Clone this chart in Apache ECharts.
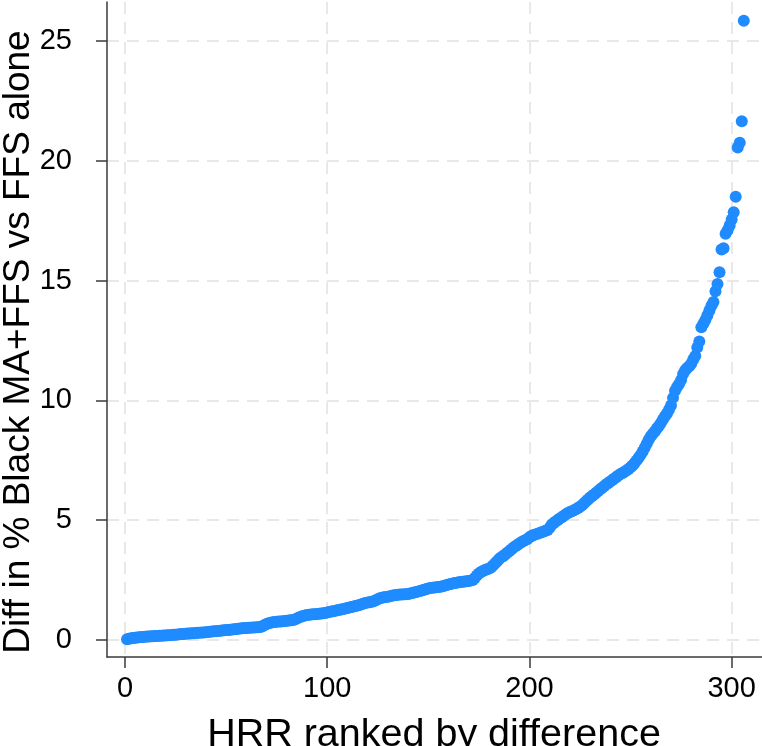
<!DOCTYPE html>
<html>
<head>
<meta charset="utf-8">
<script src="https://cdn.jsdelivr.net/npm/echarts@6/dist/echarts.min.js"></script>
<style>
html,body{margin:0;padding:0;background:#fff;}
#chart{width:762px;height:746px;}
</style>
</head>
<body>
<div id="chart"></div>
<script>
// Difference in % Black (MA+FFS vs FFS alone), HRRs ranked 1..306 by difference
var diffValues = [
0.02,0.04,0.06,0.07,0.08,0.09,0.10,0.11,0.12,0.13,
0.14,0.14,0.15,0.15,0.16,0.16,0.17,0.17,0.18,0.18,
0.19,0.19,0.20,0.21,0.21,0.22,0.23,0.24,0.24,0.25,
0.26,0.26,0.27,0.27,0.28,0.29,0.29,0.30,0.30,0.31,
0.32,0.33,0.34,0.35,0.36,0.37,0.38,0.39,0.40,0.41,
0.41,0.42,0.43,0.44,0.45,0.46,0.47,0.48,0.49,0.49,
0.50,0.50,0.51,0.51,0.52,0.52,0.53,0.56,0.62,0.66,
0.69,0.71,0.73,0.74,0.75,0.76,0.76,0.77,0.78,0.79,
0.80,0.81,0.82,0.85,0.89,0.93,0.96,0.99,1.01,1.03,
1.04,1.05,1.06,1.07,1.08,1.09,1.10,1.11,1.12,1.14,
1.16,1.18,1.19,1.21,1.23,1.25,1.26,1.28,1.30,1.33,
1.35,1.37,1.39,1.41,1.43,1.45,1.48,1.51,1.54,1.56,
1.57,1.59,1.61,1.65,1.69,1.73,1.75,1.77,1.79,1.80,
1.82,1.84,1.86,1.87,1.88,1.89,1.89,1.90,1.90,1.91,
1.93,1.95,1.97,1.99,2.02,2.04,2.07,2.09,2.12,2.14,
2.16,2.17,2.18,2.19,2.20,2.21,2.23,2.26,2.29,2.31,
2.33,2.35,2.37,2.38,2.40,2.41,2.42,2.43,2.44,2.45,
2.47,2.50,2.58,2.68,2.77,2.83,2.87,2.91,2.94,2.97,
3.02,3.10,3.19,3.28,3.37,3.44,3.49,3.56,3.63,3.70,
3.77,3.84,3.90,3.96,4.02,4.07,4.12,4.16,4.21,4.28,
4.33,4.37,4.40,4.43,4.46,4.49,4.52,4.55,4.58,4.68,
4.80,4.88,4.94,5.00,5.06,5.12,5.18,5.24,5.29,5.33,
5.37,5.41,5.45,5.50,5.55,5.62,5.70,5.78,5.86,5.94,
6.00,6.07,6.14,6.21,6.28,6.35,6.42,6.49,6.55,6.61,
6.67,6.73,6.80,6.86,6.92,6.96,7.01,7.07,7.13,7.20,
7.28,7.38,7.49,7.60,7.72,7.86,8.02,8.18,8.35,8.50,
8.60,8.70,8.82,8.93,9.05,9.20,9.33,9.45,9.60,9.78,
10.10,10.40,10.55,10.68,10.85,11.10,11.25,11.35,11.42,11.52,
11.70,11.85,12.20,12.45,13.05,13.20,13.35,13.55,13.75,13.95,
14.10,14.55,14.85,15.35,16.30,16.35,16.95,17.10,17.30,17.55,
17.85,18.50,20.55,20.75,21.65,25.85
];
var xTicks = [0, 100, 200, 300];
var yTicks = [0, 5, 10, 15, 20, 25];
var xTitle = 'HRR ranked by difference';
var yTitle = 'Diff in % Black MA+FFS vs FFS alone';

var points = diffValues.map(function (v, i) { return [i + 1, v]; });

var FONT = '"Liberation Sans", Arial, Helvetica, sans-serif';
var chart = echarts.init(document.getElementById('chart'), null, {renderer: 'canvas'});
chart.setOption({
  animation: false,
  backgroundColor: '#ffffff',
  grid: {left: 107, right: 0, top: 2, bottom: 89, containLabel: false, outerBoundsMode: 'none'},
  xAxis: {
    type: 'value', min: -8.9, max: 315,
    axisLine: {show: true, onZero: false, lineStyle: {color: '#3a3a3a', width: 1.5}},
    axisTick: {show: true, length: 11, customValues: xTicks, lineStyle: {color: '#3a3a3a', width: 1.5}},
    axisLabel: {show: true, customValues: xTicks, margin: 17, color: '#000', fontSize: 29, fontFamily: FONT},
    splitLine: {show: true, lineStyle: {color: '#e8e8e8', width: 2, type: [12, 8]}}
  },
  yAxis: {
    type: 'value', min: -0.72, max: 26.63,
    axisLine: {show: true, onZero: false, lineStyle: {color: '#3a3a3a', width: 1.5}},
    axisTick: {show: true, length: 11, customValues: yTicks, lineStyle: {color: '#3a3a3a', width: 1.5}},
    axisLabel: {show: true, customValues: yTicks, margin: 35, color: '#000', fontSize: 29, fontFamily: FONT},
    splitLine: {show: true, lineStyle: {color: '#e8e8e8', width: 2, type: [12, 8]}}
  },
  graphic: [
    {type: 'text', x: 434, y: 735, silent: true,
     style: {text: xTitle, fill: '#000', font: '39.5px ' + FONT, textAlign: 'center', textVerticalAlign: 'middle'}},
    {type: 'text', x: 18.5, y: 342, rotation: Math.PI / 2, silent: true,
     style: {text: yTitle, fill: '#000', font: '37px ' + FONT, textAlign: 'center', textVerticalAlign: 'middle'}}
  ],
  series: [{
    type: 'scatter',
    data: points,
    symbol: 'circle',
    symbolSize: 12,
    itemStyle: {color: '#1f8bff', opacity: 1},
    emphasis: {disabled: true}
  }]
});
</script>
</body>
</html>
